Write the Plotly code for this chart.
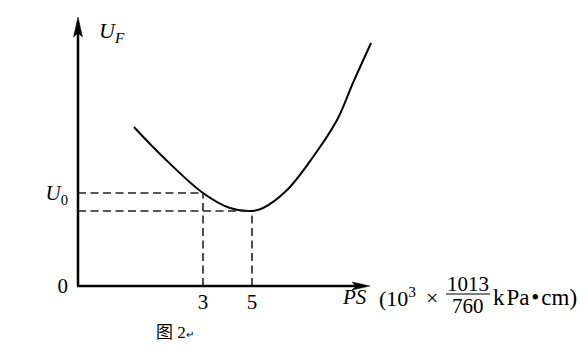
import plotly.graph_objects as go

# ---- data ----
ps_values = [0.18, 1.37, 3.0, 4.10, 5.0, 5.45, 6.43, 7.49, 8.47, 9.12, 9.86]
uf_values = [7.95, 6.45, 4.65, 3.90, 3.75, 3.90, 4.80, 6.45, 8.30, 10.15, 12.15]
ps_marks = [3, 5]
ps_mark_labels = ["3", "5"]
u0_value = 4.65
u_min_value = 3.75
y_tick_vals = [0, u0_value]
y_tick_labels = ["0", "<i>U</i><sub>0</sub>"]

# ---- layout helpers ----
W, H = 588, 362
PX_PER_X = 24.5
PX_PER_Y = 20.0
X_RANGE = [3 - 203 / PX_PER_X, 3 + (W - 203) / PX_PER_X]
Y_RANGE = [-(H - 286) / PX_PER_Y, 286 / PX_PER_Y]


def dx(p):
    return p / PX_PER_X


def dy(p):
    return p / PX_PER_Y


def paper(px, py):
    return px / W, 1 - py / H


XO = 3 + (78 - 203) / PX_PER_X   # axes origin (x)
XT = 3 + (370 - 203) / PX_PER_X  # x-axis arrow tip
YT = (286 - 17) / PX_PER_Y       # y-axis arrow tip

FONT = "Liberation Serif"
fig = go.Figure()

fig.add_trace(go.Scatter(
    x=ps_values, y=uf_values, mode="lines",
    line=dict(color="black", width=2, shape="spline", smoothing=1.0),
    hoverinfo="skip", showlegend=False,
))

shapes = []
dash_style = dict(color="#222222", width=1.6, dash="8px,4.5px")
# dashed guide lines
shapes.append(dict(type="line", xref="x", yref="y", x0=XO, y0=u0_value, x1=ps_marks[0], y1=u0_value, line=dash_style))
shapes.append(dict(type="line", xref="x", yref="y", x0=XO, y0=u_min_value, x1=ps_marks[1], y1=u_min_value, line=dash_style))
shapes.append(dict(type="line", xref="x", yref="y", x0=ps_marks[0], y0=0, x1=ps_marks[0], y1=u0_value, line=dash_style))
shapes.append(dict(type="line", xref="x", yref="y", x0=ps_marks[1], y0=0, x1=ps_marks[1], y1=u_min_value, line=dash_style))
# axes
axis_line = dict(color="black", width=2.5)
shapes.append(dict(type="line", xref="x", yref="y", x0=XO - dx(1), y0=0, x1=XT - dx(10), y1=0, line=axis_line))
shapes.append(dict(type="line", xref="x", yref="y", x0=XO, y0=0, x1=XO, y1=YT - dy(10), line=axis_line))
# arrow heads
ypath = (f"M{XO},{YT} L{XO + dx(4.5)},{YT - dy(20)} L{XO},{YT - dy(16)} "
         f"L{XO - dx(4.5)},{YT - dy(20)} Z")
xpath = (f"M{XT},0 L{XT - dx(18)},{dy(4)} L{XT - dx(14)},0 "
         f"L{XT - dx(18)},{-dy(4)} Z")
for p in (ypath, xpath):
    shapes.append(dict(type="path", xref="x", yref="y", path=p,
                       fillcolor="black", line=dict(color="black", width=0.5)))
# fraction bar
fb_x0, fb_y = paper(446, 294)
fb_x1, _ = paper(490, 294)
shapes.append(dict(type="line", xref="paper", yref="paper", x0=fb_x0, y0=fb_y, x1=fb_x1, y1=fb_y,
                   line=dict(color="black", width=1.2)))

annotations = []


def text(px, py, s, size=21, xanchor="center", family=FONT):
    x, y = paper(px, py)
    annotations.append(dict(x=x, y=y, xref="paper", yref="paper", text=s, showarrow=False,
                            xanchor=xanchor, yanchor="middle",
                            font=dict(family=family, size=size, color="black")))


text(97, 32, "<i>U</i><sub><i>F</i></sub>", size=22, xanchor="left")
text(354, 297, "<i>PS</i>", size=21)
text(377, 297, "(10<sup>3</sup>", size=22, xanchor="left")
text(432, 297, "×", size=22)
text(468, 284, "1013", size=21)
text(468, 306, "760", size=21)
text(491, 297, "k\u200aPa\u200a•\u200acm)", size=23, xanchor="left")
text(154, 330, "<span style='font-family:Noto Sans CJK SC'>图</span> 2"
     "<span style='font-size:10px'>↵</span>", size=17, xanchor="left")

fig.update_layout(
    width=W, height=H,
    margin=dict(l=0, r=0, t=0, b=0),
    paper_bgcolor="white", plot_bgcolor="white",
    shapes=shapes, annotations=annotations,
    xaxis=dict(range=X_RANGE, showgrid=False, zeroline=False, showline=False,
               tickvals=ps_marks, ticktext=ps_mark_labels, ticks="",
               anchor="free", position=1 - 286 / H, ticklabelstandoff=1,
               tickfont=dict(family=FONT, size=21, color="black")),
    yaxis=dict(range=Y_RANGE, showgrid=False, zeroline=False, showline=False,
               tickvals=y_tick_vals, ticktext=y_tick_labels, ticks="",
               anchor="free", position=78 / W, ticklabelstandoff=10,
               tickfont=dict(family=FONT, size=21, color="black")),
)

fig.write_html("out.html")
